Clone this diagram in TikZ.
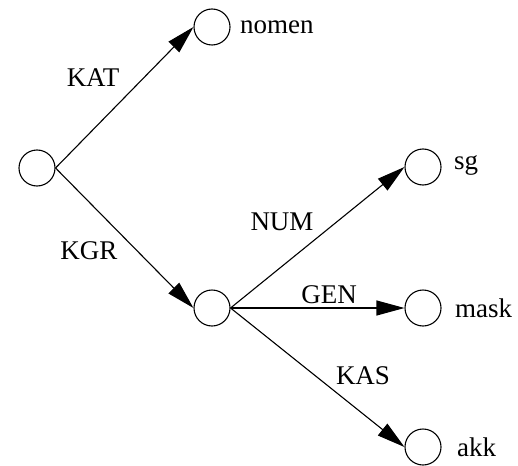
\documentclass[tikz,border=0pt]{standalone}
\usepackage{fontspec}
\setmainfont{Liberation Serif}
\usetikzlibrary{arrows.meta}
\begin{document}
\begin{tikzpicture}[x=1pt,y=-1pt,
  state/.style={draw,circle,minimum size=36pt,inner sep=0pt,line width=1.1pt},
  lbl/.style={font=\fontsize{27}{30}\selectfont,inner sep=0pt},
  edge/.style={line width=1.1pt,-{Triangle[length=28pt,width=15pt]}}]
\useasboundingbox (0,0) rectangle (518,465);
\node[state] (root) at (37,168) {};
\node[state] (nomen) at (212,27) {};
\node[state] (mid) at (212,308) {};
\node[state] (sg) at (423,167) {};
\node[state] (mask) at (423,308) {};
\node[state] (akk) at (423,447) {};
\node[lbl,anchor=west] (tnomen) at (240,27) {nomen};
\node[lbl,anchor=west] (tsg) at (454,165) {sg};
\node[lbl,anchor=west] (tmask) at (455,308) {mask};
\node[lbl,anchor=west] (takk) at (457,447) {akk};
\draw[edge] (root.east) -- (nomen.west);
\draw[edge] (root.east) -- (mid.west);
\draw[edge] (mid.east) -- (sg.west);
\draw[edge] (mid.east) -- (mask.west);
\draw[edge] (mid.east) -- (akk.west);
\node[lbl] (kat) at (93,78) {KAT};
\node[lbl] (kgr) at (89,251) {KGR};
\node[lbl] (num) at (282,222) {NUM};
\node[lbl] (gen) at (329,295) {GEN};
\node[lbl] (kas) at (363,376) {KAS};
\end{tikzpicture}
\end{document}
